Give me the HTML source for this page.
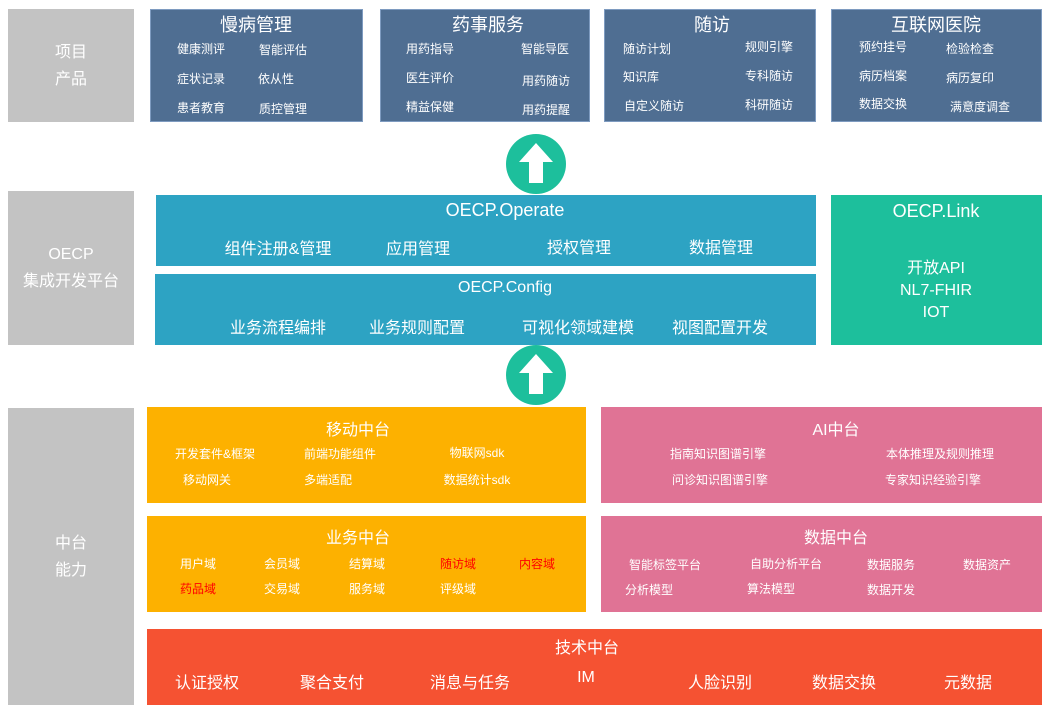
<!DOCTYPE html><html><head><meta charset="utf-8"><style>
body{margin:0;width:1049px;height:710px;background:#fff;position:relative;overflow:hidden;font-family:"Liberation Sans","Noto Sans CJK SC",sans-serif;color:#fff}
.b{position:absolute;box-sizing:border-box}
.t{position:absolute;white-space:nowrap;transform:translateX(-50%)}
.g{background:#c3c3c3;color:#fff;font-size:16px;display:flex;align-items:center;justify-content:center;text-align:center;line-height:27px}
.n{background:#4f6e92;border:1px solid #7e9bc0}
.s{font-size:12px}
</style></head><body>
<div class="b g" style="left:8px;top:9px;width:126px;height:113px">项目<br>产品</div>
<div class="b g" style="left:8px;top:191px;width:126px;height:154px">OECP<br>集成开发平台</div>
<div class="b g" style="left:8px;top:408px;width:126px;height:297px">中台<br>能力</div>

<div class="b n" style="left:150px;top:9px;width:213px;height:113px"></div>
<div class="t" style="left:256px;top:11px;font-size:18px">慢病管理</div>
<div class="t s" style="left:201px;top:40px">健康测评</div><div class="t s" style="left:283px;top:41px">智能评估</div>
<div class="t s" style="left:201px;top:70px">症状记录</div><div class="t s" style="left:276px;top:70px">依从性</div>
<div class="t s" style="left:201px;top:99px">患者教育</div><div class="t s" style="left:283px;top:100px">质控管理</div>

<div class="b n" style="left:380px;top:9px;width:210px;height:113px"></div>
<div class="t" style="left:488px;top:11px;font-size:18px">药事服务</div>
<div class="t s" style="left:430px;top:40px">用药指导</div><div class="t s" style="left:545px;top:40px">智能导医</div>
<div class="t s" style="left:430px;top:69px">医生评价</div><div class="t s" style="left:546px;top:72px">用药随访</div>
<div class="t s" style="left:430px;top:98px">精益保健</div><div class="t s" style="left:546px;top:101px">用药提醒</div>

<div class="b n" style="left:604px;top:9px;width:212px;height:113px"></div>
<div class="t" style="left:712px;top:11px;font-size:18px">随访</div>
<div class="t s" style="left:647px;top:40px">随访计划</div><div class="t s" style="left:769px;top:38px">规则引擎</div>
<div class="t s" style="left:641px;top:68px">知识库</div><div class="t s" style="left:769px;top:67px">专科随访</div>
<div class="t s" style="left:654px;top:97px">自定义随访</div><div class="t s" style="left:769px;top:96px">科研随访</div>

<div class="b n" style="left:831px;top:9px;width:211px;height:113px"></div>
<div class="t" style="left:936px;top:11px;font-size:18px">互联网医院</div>
<div class="t s" style="left:883px;top:38px">预约挂号</div><div class="t s" style="left:970px;top:40px">检验检查</div>
<div class="t s" style="left:883px;top:67px">病历档案</div><div class="t s" style="left:970px;top:69px">病历复印</div>
<div class="t s" style="left:883px;top:95px">数据交换</div><div class="t s" style="left:980px;top:98px">满意度调查</div>

<svg class="b" style="left:0;top:0" width="1049" height="710">
<circle cx="536" cy="164" r="30" fill="#1dbf9c"/><polygon points="536,143 553,162 543,162 543,183 529,183 529,162 519,162" fill="#fff"/>
<circle cx="536" cy="375" r="30" fill="#1dbf9c"/><polygon points="536,354 553,373 543,373 543,394 529,394 529,373 519,373" fill="#fff"/>
</svg>

<div class="b" style="left:156px;top:195px;width:660px;height:71px;background:#2da3c3"></div>
<div class="t" style="left:505px;top:200px;font-size:18px">OECP.Operate</div>
<div class="t" style="left:278px;top:235px;font-size:16px">组件注册&amp;管理</div><div class="t" style="left:418px;top:235px;font-size:16px">应用管理</div><div class="t" style="left:579px;top:234px;font-size:16px">授权管理</div><div class="t" style="left:721px;top:234px;font-size:16px">数据管理</div>
<div class="b" style="left:155px;top:274px;width:661px;height:71px;background:#2da3c3"></div>
<div class="t" style="left:505px;top:279px;font-size:16px">OECP.Config</div>
<div class="t" style="left:278px;top:314px;font-size:16px">业务流程编排</div><div class="t" style="left:417px;top:314px;font-size:16px">业务规则配置</div><div class="t" style="left:578px;top:314px;font-size:16px">可视化领域建模</div><div class="t" style="left:720px;top:314px;font-size:16px">视图配置开发</div>
<div class="b" style="left:831px;top:195px;width:211px;height:150px;background:#1dbf9c"></div>
<div class="t" style="left:936px;top:201px;font-size:18px">OECP.Link</div>
<div class="t" style="left:936px;top:258px;font-size:16px;text-align:center;line-height:22px">开放API<br>NL7-FHIR<br>IOT</div>

<div class="b" style="left:147px;top:407px;width:439px;height:96px;background:#fdb100"></div>
<div class="t" style="left:358px;top:416px;font-size:16px">移动中台</div>
<div class="t s" style="left:215px;top:445px">开发套件&amp;框架</div><div class="t s" style="left:340px;top:445px">前端功能组件</div><div class="t s" style="left:477px;top:444px">物联网sdk</div>
<div class="t s" style="left:207px;top:471px">移动网关</div><div class="t s" style="left:328px;top:471px">多端适配</div><div class="t s" style="left:477px;top:471px">数据统计sdk</div>

<div class="b" style="left:147px;top:516px;width:439px;height:96px;background:#fdb100"></div>
<div class="t" style="left:358px;top:524px;font-size:16px">业务中台</div>
<div class="t s" style="left:198px;top:555px">用户域</div><div class="t s" style="left:282px;top:555px">会员域</div><div class="t s" style="left:367px;top:555px">结算域</div><div class="t s" style="left:458px;top:555px;color:#f00">随访域</div><div class="t s" style="left:537px;top:555px;color:#f00">内容域</div>
<div class="t s" style="left:198px;top:580px;color:#f00">药品域</div><div class="t s" style="left:282px;top:580px">交易域</div><div class="t s" style="left:367px;top:580px">服务域</div><div class="t s" style="left:458px;top:580px">评级域</div>

<div class="b" style="left:601px;top:407px;width:441px;height:96px;background:#e07395"></div>
<div class="t" style="left:836px;top:416px;font-size:16px">AI中台</div>
<div class="t s" style="left:718px;top:445px">指南知识图谱引擎</div><div class="t s" style="left:940px;top:445px">本体推理及规则推理</div>
<div class="t s" style="left:720px;top:471px">问诊知识图谱引擎</div><div class="t s" style="left:933px;top:471px">专家知识经验引擎</div>

<div class="b" style="left:601px;top:516px;width:441px;height:96px;background:#e07395"></div>
<div class="t" style="left:836px;top:524px;font-size:16px">数据中台</div>
<div class="t s" style="left:665px;top:556px">智能标签平台</div><div class="t s" style="left:786px;top:555px">自助分析平台</div><div class="t s" style="left:891px;top:556px">数据服务</div><div class="t s" style="left:987px;top:556px">数据资产</div>
<div class="t s" style="left:649px;top:581px">分析模型</div><div class="t s" style="left:771px;top:580px">算法模型</div><div class="t s" style="left:891px;top:581px">数据开发</div>

<div class="b" style="left:147px;top:629px;width:895px;height:76px;background:#f55232"></div>
<div class="t" style="left:587px;top:634px;font-size:16px">技术中台</div>
<div class="t" style="left:207px;top:669px;font-size:16px">认证授权</div><div class="t" style="left:332px;top:669px;font-size:16px">聚合支付</div><div class="t" style="left:470px;top:669px;font-size:16px">消息与任务</div><div class="t" style="left:586px;top:669px;font-size:16px">IM</div><div class="t" style="left:720px;top:669px;font-size:16px">人脸识别</div><div class="t" style="left:844px;top:669px;font-size:16px">数据交换</div><div class="t" style="left:968px;top:669px;font-size:16px">元数据</div>
</body></html>
